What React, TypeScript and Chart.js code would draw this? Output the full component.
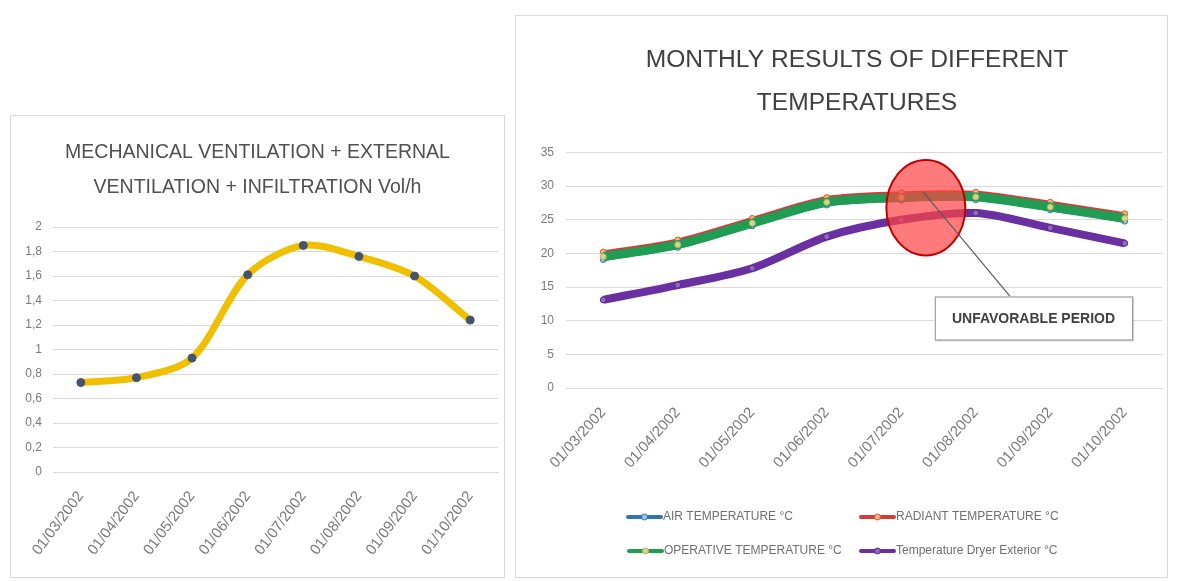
import React, { useEffect, useRef } from 'react';
import { Chart, registerables } from 'chart.js';

Chart.register(...registerables);

const FONT = "'Liberation Sans', Arial, sans-serif";

// ---------- data ----------
const dates = ['01/03/2002', '01/04/2002', '01/05/2002', '01/06/2002', '01/07/2002', '01/08/2002', '01/09/2002', '01/10/2002'];
const ventilationVolH = [0.73, 0.77, 0.93, 1.61, 1.85, 1.76, 1.6, 1.24];

const airTemperature = [19.1, 20.9, 24.1, 27.2, 27.9, 28.0, 26.5, 24.8];
const radiantTemperature = [20.2, 22.0, 25.2, 28.3, 29.0, 29.1, 27.6, 25.9];
const operativeTemperature = [19.5, 21.3, 24.5, 27.6, 28.3, 28.4, 26.9, 25.2];
const exteriorTemperature = [13.1, 15.3, 17.8, 22.5, 25.0, 26.0, 23.8, 21.5];

const leftTitle = ['MECHANICAL VENTILATION + EXTERNAL', 'VENTILATION + INFILTRATION Vol/h'];
const rightTitle = ['MONTHLY RESULTS OF DIFFERENT', 'TEMPERATURES'];
const seriesLabels = ['AIR TEMPERATURE °C', 'RADIANT TEMPERATURE °C', 'OPERATIVE TEMPERATURE °C', 'Temperature Dryer Exterior °C'];
const annotationText = 'UNFAVORABLE PERIOD';

const commaFmt = (v: number) => String(Math.round(v * 10) / 10).replace('.', ',');

// ---------- plugins ----------
const offsetTitlePlugin = {
  id: 'offsetTitle',
  afterDraw(chart: any, _args: any, opts: any) {
    const ctx = chart.ctx as CanvasRenderingContext2D;
    ctx.save();
    ctx.font = `${opts.size}px ${FONT}`;
    ctx.fillStyle = opts.color;
    ctx.textAlign = 'center';
    ctx.textBaseline = 'middle';
    (opts.text as string[]).forEach((t, i) => {
      ctx.fillText(t, chart.width / 2 + opts.dx, opts.top + i * opts.lineGap);
    });
    ctx.restore();
  },
};

const gridLegendPlugin = {
  id: 'gridLegend',
  afterDraw(chart: any) {
    const ctx = chart.ctx as CanvasRenderingContext2D;
    const slots = [
      { x: 111, y: 501 },
      { x: 344, y: 501 },
      { x: 112, y: 535 },
      { x: 344, y: 535 },
    ];
    ctx.save();
    ctx.font = `12px ${FONT}`;
    ctx.textBaseline = 'middle';
    ctx.textAlign = 'left';
    chart.data.datasets.forEach((ds: any, i: number) => {
      const s = slots[i];
      if (!s) return;
      ctx.strokeStyle = ds.borderColor;
      ctx.lineWidth = 4;
      ctx.lineCap = 'round';
      ctx.beginPath();
      ctx.moveTo(s.x, s.y);
      ctx.lineTo(s.x + 33, s.y);
      ctx.stroke();
      ctx.beginPath();
      ctx.arc(s.x + 16.5, s.y, 3, 0, Math.PI * 2);
      ctx.fillStyle = ds.pointBackgroundColor;
      ctx.fill();
      ctx.lineWidth = 1;
      ctx.strokeStyle = ds.pointBorderColor;
      ctx.stroke();
      ctx.fillStyle = '#6f6f6f';
      ctx.fillText(ds.label, s.x + 35, s.y);
    });
    ctx.restore();
  },
};

const unfavorablePlugin = {
  id: 'unfavorable',
  afterDatasetsDraw(chart: any) {
    const ctx = chart.ctx as CanvasRenderingContext2D;
    const xs = chart.scales.x;
    const ys = chart.scales.y;
    const unitX = xs.getPixelForValue(1) - xs.getPixelForValue(0);
    const cx = xs.getPixelForValue(4.33);
    const cy = ys.getPixelForValue(26.8);
    const rx = unitX * 0.53;
    const ry = Math.abs(ys.getPixelForValue(0) - ys.getPixelForValue(7.1));
    ctx.save();
    ctx.beginPath();
    ctx.ellipse(cx, cy, rx, ry, 0, 0, Math.PI * 2);
    ctx.fillStyle = 'rgba(255, 66, 66, 0.7)';
    ctx.fill();
    ctx.lineWidth = 2;
    ctx.strokeStyle = '#c00000';
    ctx.stroke();

    // connector
    const x1 = xs.getPixelForValue(4.29);
    const y1 = ys.getPixelForValue(29.2);
    const x2 = xs.getPixelForValue(5.46);
    const y2 = ys.getPixelForValue(13.6);
    ctx.beginPath();
    ctx.moveTo(x1, y1);
    ctx.lineTo(x2, y2);
    ctx.lineWidth = 1.2;
    ctx.strokeStyle = '#595959';
    ctx.stroke();

    // box
    const bx1 = xs.getPixelForValue(4.45);
    const bx2 = xs.getPixelForValue(7.1);
    const by1 = ys.getPixelForValue(13.6);
    const by2 = ys.getPixelForValue(7.2);
    ctx.fillStyle = 'rgba(0,0,0,0.12)';
    ctx.fillRect(bx1 + 2, by1 + 2, bx2 - bx1, by2 - by1);
    ctx.fillStyle = '#ffffff';
    ctx.fillRect(bx1, by1, bx2 - bx1, by2 - by1);
    ctx.lineWidth = 1;
    ctx.strokeStyle = '#8c8c8c';
    ctx.strokeRect(bx1 + 0.5, by1 + 0.5, bx2 - bx1, by2 - by1);
    ctx.font = `bold 14px ${FONT}`;
    ctx.fillStyle = '#404040';
    ctx.textAlign = 'center';
    ctx.textBaseline = 'middle';
    ctx.fillText(annotationText, (bx1 + bx2) / 2, (by1 + by2) / 2 + 1);
    ctx.restore();
  },
};

// ---------- components ----------
function ChartCanvas({ width, height, makeConfig, style }: { width: number; height: number; makeConfig: () => any; style: React.CSSProperties }) {
  const ref = useRef<HTMLCanvasElement | null>(null);
  useEffect(() => {
    if (!ref.current) return;
    const chart = new Chart(ref.current, makeConfig());
    return () => chart.destroy();
  }, []);
  return <canvas ref={ref} width={width} height={height} style={{ position: 'absolute', width, height, ...style }} />;
}

function leftConfig() {
  return {
    type: 'line',
    data: {
      labels: dates,
      datasets: [
        {
          label: 'Vol/h',
          data: ventilationVolH,
          borderColor: '#f0bf00',
          borderWidth: 7,
          tension: 0.3,
          pointRadius: 4,
          pointBackgroundColor: '#44546a',
          pointBorderColor: '#44546a',
          pointBorderWidth: 1,
          fill: false,
        },
      ],
    },
    options: {
      responsive: false,
      animation: false,
      devicePixelRatio: 1,
      layout: { padding: { left: 6, right: 6, top: 0, bottom: 0 } },
      plugins: {
        legend: { display: false },
        tooltip: { enabled: false },
        title: {
          display: true,
          text: leftTitle,
          color: '#505050',
          font: { family: FONT, size: 19.5, weight: 'normal', lineHeight: 35 / 19.5 },
          padding: { top: 19.5, bottom: 21.5 },
        },
      },
      scales: {
        x: {
          offset: true,
          grid: { display: false, drawTicks: false },
          border: { display: true, color: '#d9d9d9' },
          ticks: { color: '#7a7a7a', font: { family: FONT, size: 15 }, minRotation: 53, maxRotation: 53, autoSkip: false, padding: 16 },
          afterFit: (s: any) => { s.height = 105; },
        },
        y: {
          min: 0,
          max: 2,
          grid: { color: '#d9d9d9', drawTicks: false },
          border: { display: false },
          ticks: { stepSize: 0.2, color: '#7a7a7a', font: { family: FONT, size: 12 }, padding: 11, callback: (v: any) => commaFmt(Number(v)) },
          afterFit: (s: any) => { s.width = 36; },
        },
      },
    },
  };
}

function rightConfig() {
  const mk = (label: string, data: number[], color: string, width: number, pFill: string, pBorder: string, order: number) => ({
    label,
    data,
    borderColor: color,
    borderWidth: width,
    tension: 0.3,
    pointRadius: 3,
    pointBackgroundColor: pFill,
    pointBorderColor: pBorder,
    pointBorderWidth: 1,
    fill: false,
    order,
  });
  return {
    type: 'line',
    data: {
      labels: dates,
      datasets: [
        mk(seriesLabels[0], airTemperature, '#2e75b6', 3, '#9dc3e6', '#2e75b6', 2),
        mk(seriesLabels[1], radiantTemperature, '#d83a3a', 3, '#f4b183', '#d0602a', 1),
        mk(seriesLabels[2], operativeTemperature, '#1f9d55', 9, '#b8e29a', '#d9a050', 0),
        mk(seriesLabels[3], exteriorTemperature, '#6a2fa0', 8, '#8f6bc0', '#5a2590', 3),
      ],
    },
    options: {
      responsive: false,
      animation: false,
      devicePixelRatio: 1,
      layout: { padding: { left: 0, right: 1, top: 136.5, bottom: 84 } },
      plugins: {
        legend: { display: false },
        tooltip: { enabled: false },
        title: { display: false },
        offsetTitle: { text: rightTitle, size: 24.6, color: '#404040', top: 44, lineGap: 43, dx: 15 },
      },
      scales: {
        x: {
          offset: true,
          grid: { display: false, drawTicks: false },
          border: { display: true, color: '#d9d9d9' },
          ticks: { color: '#7a7a7a', font: { family: FONT, size: 15 }, minRotation: 48, maxRotation: 48, autoSkip: false, padding: 16 },
          afterFit: (s: any) => { s.height = 105; },
        },
        y: {
          min: 0,
          max: 35,
          grid: { color: '#d9d9d9', drawTicks: false },
          border: { display: false },
          ticks: { stepSize: 5, color: '#7a7a7a', font: { family: FONT, size: 12 }, padding: 12 },
          afterFit: (s: any) => { s.width = 49; },
        },
      },
    },
    plugins: [offsetTitlePlugin, unfavorablePlugin, gridLegendPlugin],
  };
}

export default function App() {
  const box: React.CSSProperties = { position: 'absolute', border: '1px solid #d9d9d9', boxSizing: 'border-box', background: '#fff' };
  return (
    <div style={{ position: 'absolute', left: 0, top: 0, width: 1178, height: 581, background: '#ffffff', overflow: 'hidden' }}>
      <div style={{ ...box, left: 10, top: 115, width: 495, height: 463 }} />
      <div style={{ ...box, left: 515, top: 15, width: 653, height: 563 }} />
      <ChartCanvas width={493} height={461} makeConfig={leftConfig} style={{ left: 11, top: 116 }} />
      <ChartCanvas width={650} height={561} makeConfig={rightConfig} style={{ left: 517, top: 16 }} />
    </div>
  );
}
